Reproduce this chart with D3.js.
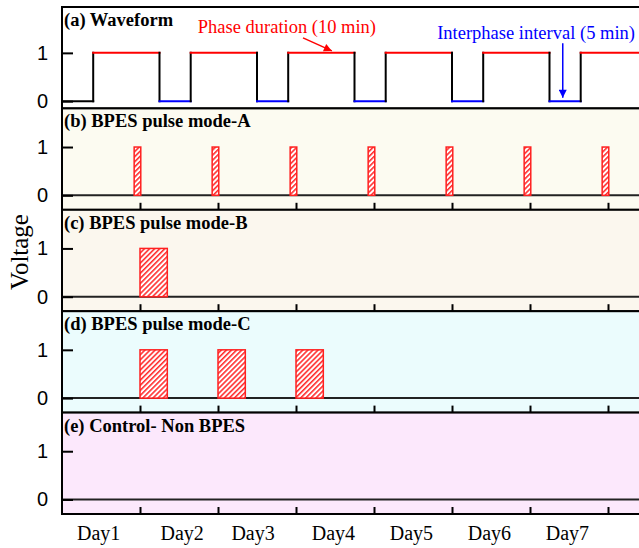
<!DOCTYPE html>
<html lang="en">
<head>
<meta charset="UTF-8">
<title>BPES pulse modes</title>
<script src="https://cdnjs.cloudflare.com/ajax/libs/d3/7.8.5/d3.min.js"></script>
<style>
body { margin: 0; background: #fff; }
svg { display: block; font-family: "Times New Roman", "Liberation Serif", serif; }
.axis path { display: none; }
.axis line { stroke: #000; stroke-width: 2px; }
.axis text { font-size: 20px; fill: #000; }
</style>
</head>
<body>
<div id="chart"></div>
<script>

// data (x in days, y in volts)
var days = [1, 2, 3, 4, 5, 6, 7];
var dayLabels = ["Day1", "Day2", "Day3", "Day4", "Day5", "Day6", "Day7"];
var dayLabelPos = [0.47, 1.54, 2.45, 3.48, 4.48, 5.48, 6.48];
var voltTicks = [0, 1];

var panelTitles = ["(a) Waveform", "(b) BPES pulse mode-A", "(c) BPES pulse mode-B",
                   "(d) BPES pulse mode-C", "(e) Control- Non BPES"];
var panelColors = ["#ffffff", "#fcfbf1", "#fbf7ee", "#ebfcfd", "#fce8fc"];

// waveform switching times
var riseTimes = [0.4, 1.65, 2.9, 4.15, 5.4, 6.65];
var fallTimes = [1.25, 2.5, 3.75, 5.0, 6.25, 7.9];

// pulses [start, end]
var modeA = [[0.925, 1.01], [1.925, 2.01], [2.925, 3.01], [3.925, 4.01],
             [4.925, 5.01], [5.925, 6.01], [6.925, 7.01]];
var modeB = [[1.0, 1.35]];
var modeC = [[1.0, 1.35], [2.0, 2.35], [3.0, 3.35]];
var pulses = [null, modeA, modeB, modeC, []];

var W = 639, H = 548;
var plotLeft = 62, plotTop = 7, plotBottom = 514;
var panelH = (plotBottom - plotTop) / 5;

var x = d3.scaleLinear().domain([0, 7.7]).range([plotLeft, plotLeft + 78 * 7.7]);
var plotRight = x.range()[1];

var svg = d3.select("#chart").append("svg")
    .attr("width", W)
    .attr("height", H);

var defs = svg.append("defs");

var hatch = defs.append("pattern")
    .attr("id", "hatch")
    .attr("patternUnits", "userSpaceOnUse")
    .attr("width", 3.6)
    .attr("height", 3.6)
    .attr("patternTransform", "rotate(45)");
hatch.append("rect").attr("width", 3.6).attr("height", 3.6).attr("fill", "#fff");
hatch.append("line")
    .attr("x1", 0.8).attr("y1", 0).attr("x2", 0.8).attr("y2", 3.6)
    .attr("stroke", "#ff2020").attr("stroke-width", 1.5);

function arrowHead(id, color) {
    defs.append("marker")
        .attr("id", id)
        .attr("viewBox", "0 0 10 10")
        .attr("refX", 10).attr("refY", 5)
        .attr("markerUnits", "userSpaceOnUse")
        .attr("markerWidth", 10).attr("markerHeight", 8)
        .attr("orient", "auto")
        .append("path")
        .attr("d", "M0,0L10,5L0,10Z")
        .attr("fill", color);
}
arrowHead("arrRed", "#ff0000");
arrowHead("arrBlue", "#0000ff");

defs.append("clipPath").attr("id", "plotClip")
    .append("rect")
    .attr("x", plotLeft).attr("y", plotTop)
    .attr("width", plotRight - plotLeft).attr("height", plotBottom - plotTop);

panelTitles.forEach(function(title, i) {
    var y0 = plotTop + i * panelH, y1 = y0 + panelH;
    var dom = i == 0 ? [-0.15, 1.95] : [-0.3, 1.8];
    var y = d3.scaleLinear().domain(dom).range([y1, y0]);

    var g = svg.append("g");

    g.append("rect")
        .attr("x", plotLeft).attr("y", y0)
        .attr("width", plotRight - plotLeft).attr("height", panelH)
        .attr("fill", panelColors[i]);

    var inner = g.append("g").attr("clip-path", "url(#plotClip)");

    if (i == 0) {
        // waveform: black edges, red high, blue low
        var segs = [];
        segs.push({a: [0, 0], b: [riseTimes[0], 0], c: "#000"});
        riseTimes.forEach(function(r, k) {
            var f = fallTimes[k];
            segs.push({a: [r, 0], b: [r, 1], c: "#000"});
            segs.push({a: [r, 1], b: [f, 1], c: "#ff0000"});
            segs.push({a: [f, 1], b: [f, 0], c: "#000"});
            if (k + 1 < riseTimes.length)
                segs.push({a: [f, 0], b: [riseTimes[k + 1], 0], c: "#0000ff"});
        });
        inner.selectAll(".seg")
            .data(segs)
            .enter()
            .append("line")
            .attr("x1", function(d) { return x(d.a[0]); })
            .attr("y1", function(d) { return y(d.a[1]); })
            .attr("x2", function(d) { return x(d.b[0]); })
            .attr("y2", function(d) { return y(d.b[1]); })
            .attr("stroke", function(d) { return d.c; })
            .attr("stroke-width", 2)
            .attr("stroke-linecap", "square");

        g.append("text")
            .attr("x", x(1.74)).attr("y", y(1.41))
            .style("font-size", "18.5px").attr("fill", "#ff0000")
            .text("Phase duration (10 min)");
        g.append("line")
            .attr("x1", x(3.09)).attr("y1", y(1.31))
            .attr("x2", x(3.46)).attr("y2", y(1.04))
            .attr("stroke", "#ff0000").attr("stroke-width", 1.5)
            .attr("marker-end", "url(#arrRed)");

        g.append("text")
            .attr("x", x(4.81)).attr("y", y(1.29))
            .style("font-size", "18.5px").attr("fill", "#0000ff")
            .text("Interphase interval (5 min)");
        g.append("line")
            .attr("x1", x(6.42)).attr("y1", y(1.2))
            .attr("x2", x(6.42)).attr("y2", y(0.07))
            .attr("stroke", "#0000ff").attr("stroke-width", 1.5)
            .attr("marker-end", "url(#arrBlue)");
    } else {
        inner.append("line")
            .attr("x1", plotLeft).attr("x2", plotRight)
            .attr("y1", y(0)).attr("y2", y(0))
            .attr("stroke", "#222").attr("stroke-width", 2);

        inner.selectAll(".bar")
            .data(pulses[i])
            .enter()
            .append("rect")
            .attr("x", function(d) { return x(d[0]); })
            .attr("y", y(1))
            .attr("width", function(d) { return x(d[1]) - x(d[0]); })
            .attr("height", y(0) - y(1))
            .attr("fill", "url(#hatch)")
            .attr("stroke", "#ff2020")
            .attr("stroke-width", 1.5);

        // x ticks pointing up from the panel bottom
        g.append("g")
            .attr("class", "axis")
            .attr("transform", "translate(0," + y1 + ")")
            .call(d3.axisBottom(x).tickValues(days).tickSize(-7).tickFormat(""));
    }

    g.append("g")
        .attr("class", "axis")
        .attr("transform", "translate(" + plotLeft + ",0)")
        .call(d3.axisLeft(y).tickValues(voltTicks).tickSize(-11).tickPadding(14).tickFormat(d3.format("d")));

    g.append("text")
        .attr("x", plotLeft + 2).attr("y", y0 + 19)
        .style("font-size", "18.5px").style("font-weight", "bold")
        .text(title);

    g.append("rect")
        .attr("x", plotLeft).attr("y", y0)
        .attr("width", plotRight - plotLeft).attr("height", panelH)
        .attr("fill", "none").attr("stroke", "#000").attr("stroke-width", 2);
});

// day labels under the bottom panel
svg.selectAll(".dayLabel")
    .data(dayLabels)
    .enter()
    .append("text")
    .attr("x", function(d, i) { return x(dayLabelPos[i]); })
    .attr("y", plotBottom + 26)
    .attr("text-anchor", "middle")
    .style("font-size", "20px")
    .text(function(d) { return d; });

svg.append("text")
    .attr("transform", "translate(28,252) rotate(-90)")
    .attr("text-anchor", "middle")
    .style("font-size", "25px")
    .text("Voltage");

</script>
</body>
</html>
